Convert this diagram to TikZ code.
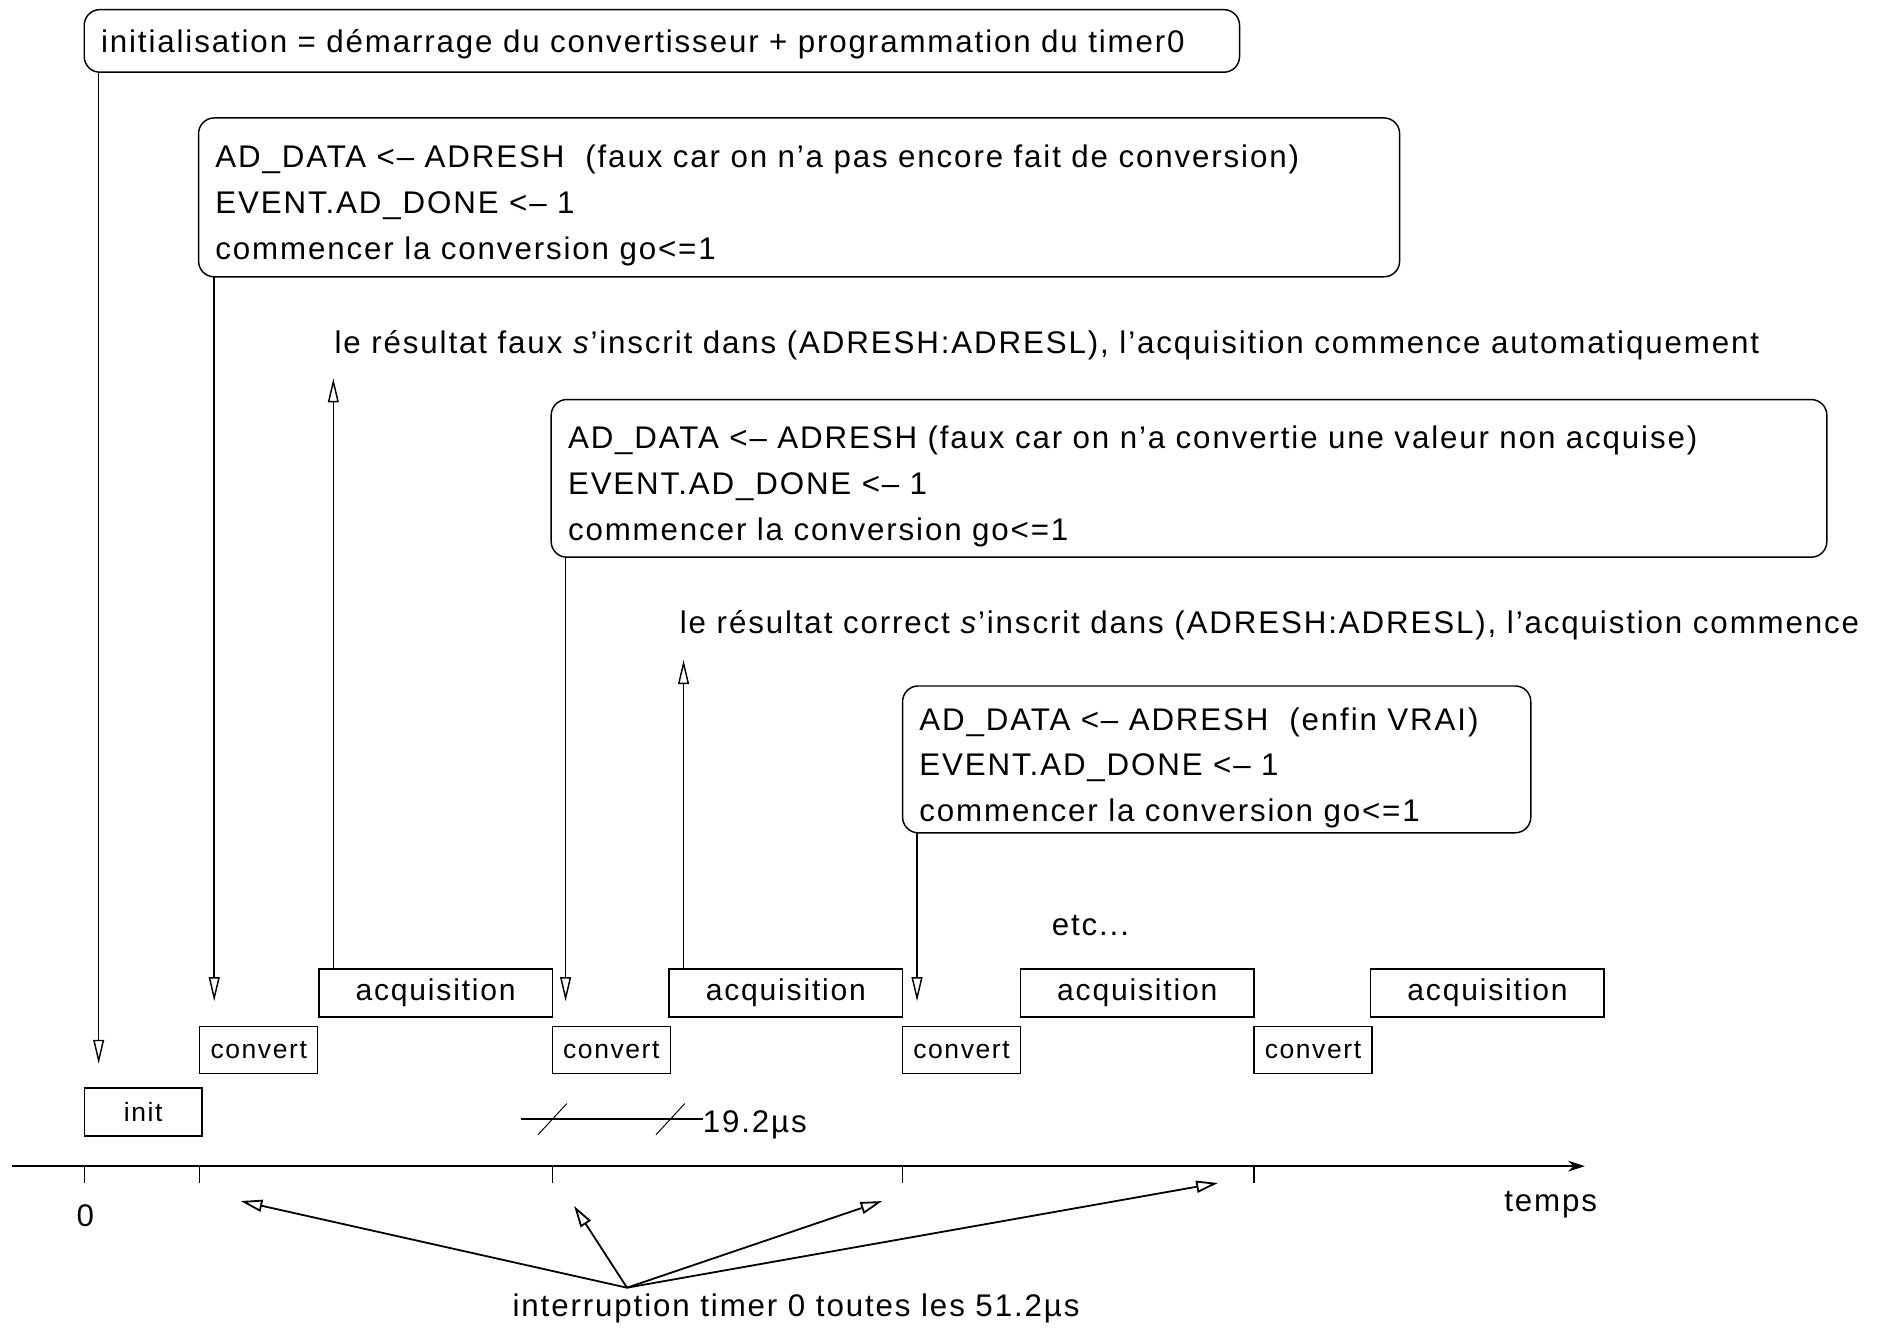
\documentclass[tikz,border=0pt]{standalone}
\usepackage{fontspec}
\setmainfont{Liberation Sans}[LetterSpace=6]
\usetikzlibrary{arrows.meta}
\newcommand\fz[1]{\fontsize{#1}{38}\selectfont}
\newcommand\lead[1]{\rule{0pt}{#1}}
\begin{document}
\begin{tikzpicture}[x=1pt,y=-1pt,line width=1.2pt,
  every node/.style={inner sep=0pt, outer sep=0pt},
  rbox/.style={draw, rounded corners=13pt, anchor=north west, align=left,
               inner xsep=14pt, font=\fz{26}},
  slot/.style={draw, anchor=north west},
  acq/.style={slot, minimum width=194pt, minimum height=40pt, font=\fz{25}},
  cvt/.style={slot, minimum width=98pt, minimum height=39pt, font=\fz{22}},
  txt/.style={font=\fz{26}, anchor=base west},
  link/.style={-{Triangle[open,length=20pt,width=9pt]}},
  irq/.style={line width=1.5pt,-{Triangle[open,length=18pt,width=10pt]}},
]
\useasboundingbox (0,0) rectangle (1568,1103);

% comment boxes
\node[rbox, minimum width=960pt, minimum height=52pt, text width=932pt] (cmtA) at (70,8)
  {\lead{25pt}initialisation = démarrage du convertisseur + programmation du timer0};
\node[rbox, minimum width=998pt, minimum height=132pt, text width=970pt] (cmtB) at (165,98)
  {\lead{32pt}AD\_DATA <-- ADRESH \ (faux car on n'a pas encore fait de conversion)\\
   EVENT.AD\_DONE <-- 1\\
   commencer la conversion go<=1};
\node[rbox, minimum width=1060pt, minimum height=131pt, text width=1032pt] (cmtD) at (458,332)
  {\lead{32pt}AD\_DATA <-- ADRESH (faux car on n'a convertie une valeur non acquise)\\
   EVENT.AD\_DONE <-- 1\\
   commencer la conversion go<=1};
\node[rbox, minimum width=522pt, minimum height=122pt, text width=494pt] (cmtF) at (750,570)
  {\lead{33pt}AD\_DATA <-- ADRESH \ (enfin VRAI)\\
   EVENT.AD\_DONE <-- 1\\
   commencer la conversion go<=1};

% free comments
\node[txt] (resA) at (278,294)
  {le résultat faux \textit{s}'inscrit dans (ADRESH:ADRESL), l'acquisition commence automatiquement};
\node[txt] (resB) at (565,526)
  {le résultat correct \textit{s}'inscrit dans (ADRESH:ADRESL), l'acquistion commence};
\node[txt] (etc) at (874,777) {etc...};

% time slots
\node[slot, minimum width=98pt, minimum height=40pt, font=\fz{22}] (init) at (70,904) {init};
\node[cvt] (cv1) at (166,853) {convert};
\node[cvt] (cv2) at (459,853) {convert};
\node[cvt] (cv3) at (750,853) {convert};
\node[cvt] (cv4) at (1042,853) {convert};
\node[acq] (aq1) at (265,805) {acquisition};
\node[acq] (aq2) at (556,805) {acquisition};
\node[acq] (aq3) at (848,805) {acquisition};
\node[acq] (aq4) at (1139,805) {acquisition};

% links from comments to slots
\draw[link, shorten >=20pt] ([xshift=12pt]cmtA.south west) -- ([xshift=12pt]cmtA.south west |- init.north);
\draw[link, shorten >=21pt] ([xshift=13pt]cmtB.south west) -- ([xshift=13pt]cmtB.south west |- cv1.north);
\draw[link, shorten >=21pt] ([xshift=12pt]cmtD.south west) -- ([xshift=12pt]cmtD.south west |- cv2.north);
\draw[link, shorten >=21pt] ([xshift=12pt]cmtF.south west) -- ([xshift=12pt]cmtF.south west |- cv3.north);
\draw[link, shorten >=15pt] ([xshift=12pt]aq1.north west) -- ([xshift=12pt]aq1.north west |- resA.south);
\draw[link, shorten >=17pt] ([xshift=12pt]aq2.north west) -- ([xshift=12pt]aq2.north west |- resB.south);

% duration of a conversion
\node[txt] (dur) at (584,941) {19.2µs};
\coordinate (durL) at (433,930);
\draw (durL) -- (durL -| dur.west);
\draw[line width=0.8pt] ([shift={(-12,13)}]cv2.south west |- durL) -- ++(24,-26);
\draw[line width=0.8pt] ([shift={(-12,13)}]cv2.south east |- durL) -- ++(24,-26);

% time axis
\coordinate (t0) at (10,969);
\coordinate (tend) at (1317,969);
\draw[line width=1.5pt, -{Stealth[length=14pt,width=9pt]}] (t0) -- (tend);
\foreach \n in {init,cv1,cv2,cv3,cv4}
  \draw (\n.south west |- t0) -- ++(0,14);
\node[txt, anchor=base] (zero) at (71,1019) {0};
\node[txt] (temps) at (1250,1007) {temps};

% timer interrupts
\coordinate (src) at (521,1070);
\coordinate (p1) at (200,998);
\coordinate (p2) at (477,1002);
\coordinate (p3) at (733,998);
\coordinate (p4) at (1012,983);
\foreach \p in {p1,p2,p3,p4}
  \draw[irq] (src) -- (\p);
\node[txt] (irqlbl) at (426,1094) {interruption timer 0 toutes les 51.2µs};
\end{tikzpicture}
\end{document}
